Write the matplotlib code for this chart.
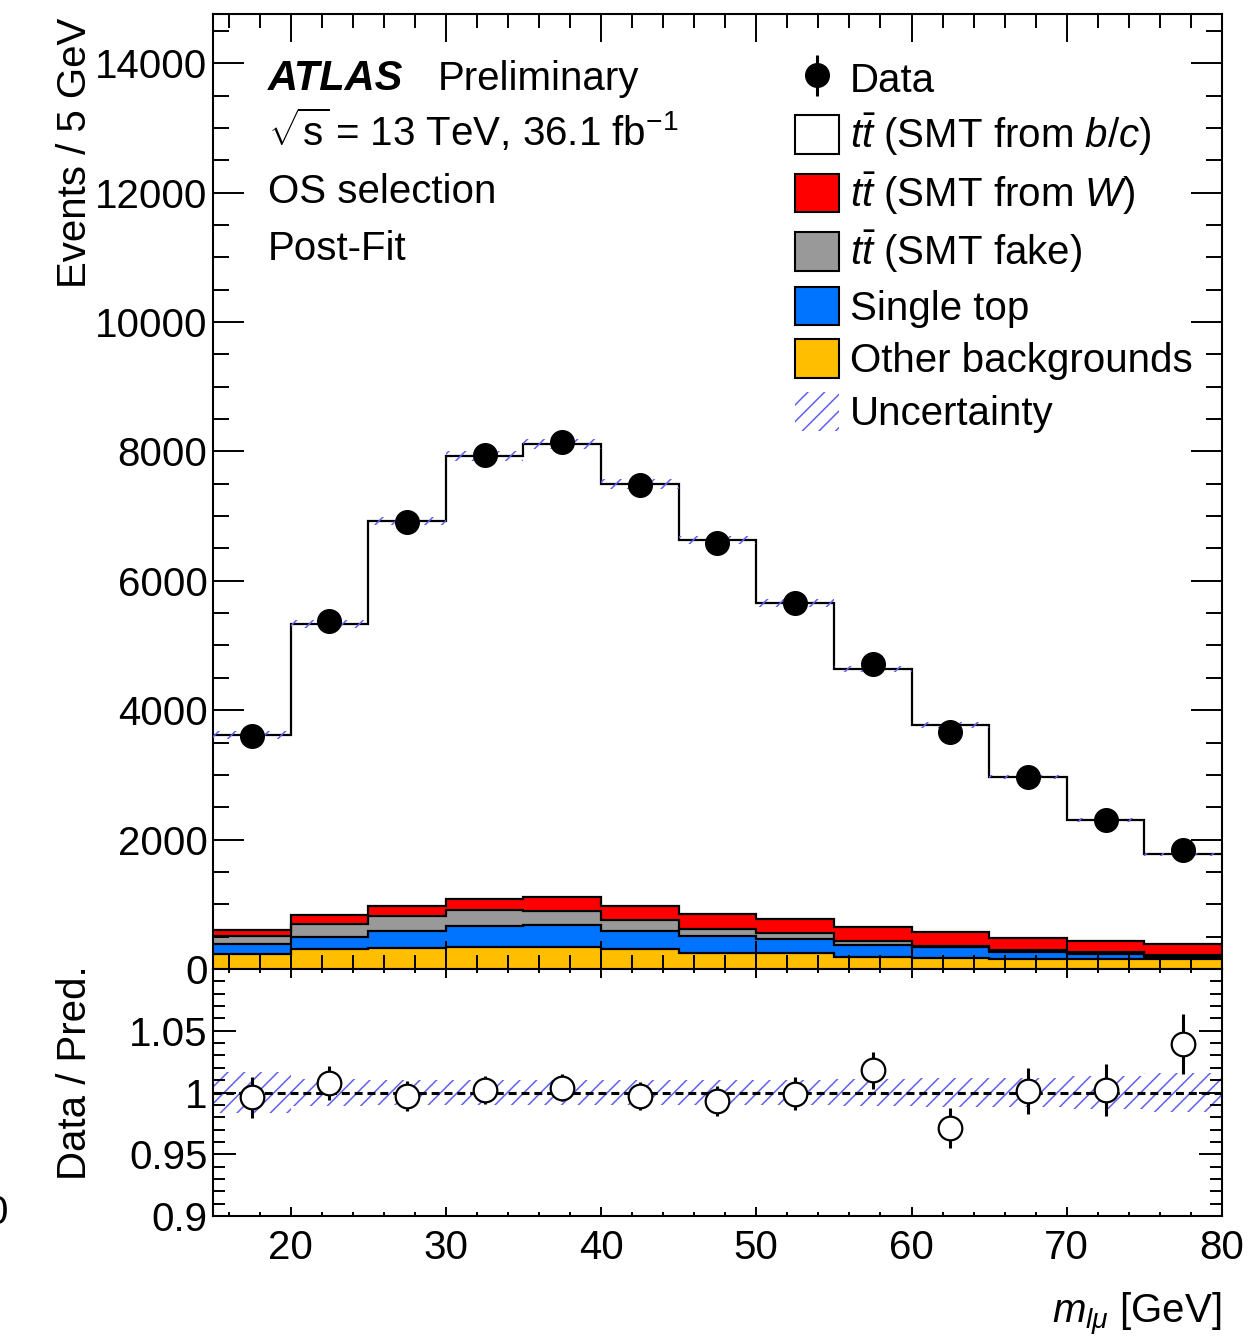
import matplotlib
matplotlib.use('Agg')
import matplotlib.pyplot as plt
import numpy as np
from matplotlib.patches import Patch
from matplotlib.ticker import MultipleLocator, FixedLocator, FuncFormatter

plt.rcParams['font.family'] = ['Liberation Sans', 'DejaVu Sans']
plt.rcParams['mathtext.fontset'] = 'custom'
plt.rcParams['mathtext.rm'] = 'Liberation Sans'
plt.rcParams['mathtext.it'] = 'Liberation Sans:italic'
plt.rcParams['mathtext.bf'] = 'Liberation Sans:bold'
plt.rcParams['hatch.linewidth'] = 1.1

# m_lmu bins [GeV]
edges = np.arange(15, 81, 5)
data = np.array([3604, 5372, 6903, 7945, 8146, 7474, 6585, 5651, 4720, 3662, 2971, 2310, 1840])
# stacked predictions, bottom to top
other_bkg = np.array([227, 304, 320, 335, 345, 304, 242, 242, 191, 165, 150, 150, 150])
single_top = np.array([154, 191, 268, 335, 341, 289, 273, 222, 185, 170, 108, 77, 41])
tt_fake = np.array([134, 206, 226, 242, 211, 160, 104, 98, 52, 21, 36, 41, 25])
tt_w = np.array([93, 129, 155, 176, 222, 216, 237, 216, 227, 211, 180, 160, 171])
total = np.array([3618, 5332, 6924, 7929, 8114, 7496, 6631, 5657, 4637, 3771, 2967, 2305, 1770])
tt_bc = total - other_bkg - single_top - tt_fake - tt_w
rel_unc = np.array([0.017, 0.011, 0.010, 0.010, 0.010, 0.010, 0.010, 0.010, 0.011, 0.012, 0.012, 0.0135, 0.016])

centers = 0.5 * (edges[:-1] + edges[1:])
ratio = data / total
ratio_err = np.sqrt(data) / total

hatch_col = '#6060f0'
fs = 29

fig = plt.figure(figsize=(12.51, 13.36), dpi=100)
ax = fig.add_axes([0.17026, 0.27470, 0.80655, 0.71482])
ax2 = fig.add_axes([0.17026, 0.08982, 0.80655, 0.18488])

components = [
    (other_bkg, '#ffbf00', 'Other backgrounds'),
    (single_top, '#0073ff', 'Single top'),
    (tt_fake, '#999999', r'$t\bar{t}$ (SMT fake)'),
    (tt_w, '#ff0000', r'$t\bar{t}$ (SMT from $W$)'),
    (tt_bc, 'white', r'$t\bar{t}$ (SMT from $b/c$)'),
]
bottom = np.zeros(len(total))
patches = {}
for vals, col, lab in components:
    top = bottom + vals
    ax.stairs(top, edges, baseline=bottom, fill=True, color=col, zorder=1)
    ax.stairs(top, edges, baseline=None, color='black', lw=1.6, zorder=2)
    patches[lab] = Patch(facecolor=col, edgecolor='black', lw=1.5)
    bottom = top

ax.stairs(total * (1 + rel_unc), edges, baseline=total * (1 - rel_unc), fill=True,
          hatch='//', facecolor='none', edgecolor=hatch_col, lw=0, zorder=3)
dat = ax.errorbar(centers, data, yerr=np.sqrt(data), fmt='o', color='black', ms=17,
                  elinewidth=2.2, capsize=0, zorder=5)

ax.set_xlim(15, 80)
ax.set_ylim(0, 14760)
ax.yaxis.set_major_locator(MultipleLocator(2000))
ax.yaxis.set_minor_locator(MultipleLocator(500))
ax.xaxis.set_major_locator(MultipleLocator(10))
ax.xaxis.set_minor_locator(MultipleLocator(2))
ax.tick_params(which='both', direction='in', top=True, right=True, width=1.4,
               labelsize=fs, labelbottom=False, pad=4)
ax.tick_params(axis='y', which='major', length=22)
ax.tick_params(axis='y', which='minor', length=11.5)
ax.tick_params(axis='x', which='major', length=20)
ax.tick_params(axis='x', which='minor', length=10)

# ratio panel
ax2.stairs(1 + rel_unc, edges, baseline=1 - rel_unc, fill=True, hatch='//',
           facecolor='none', edgecolor=hatch_col, lw=0, zorder=1)
ax2.axhline(1, color='black', lw=2.2, dashes=(2.6, 1.6), zorder=2)
ax2.errorbar(centers, ratio, yerr=ratio_err, fmt='o', mfc='white', mec='black', mew=1.6,
             ms=17, ecolor='black', elinewidth=2.2, capsize=0, zorder=4)
ax2.set_xlim(15, 80)
ax2.set_ylim(0.9, 1.1)
ax2.yaxis.set_major_locator(FixedLocator([0.9, 0.95, 1.0, 1.05]))
ax2.yaxis.set_minor_locator(MultipleLocator(0.01))
ax2.yaxis.set_major_formatter(FuncFormatter(lambda v, p: '%g' % round(v, 3)))
ax2.xaxis.set_major_locator(MultipleLocator(10))
ax2.xaxis.set_minor_locator(MultipleLocator(2))
ax2.tick_params(which='both', direction='in', top=True, right=True, width=1.4,
                labelsize=fs, pad=4)
ax2.tick_params(axis='x', which='major', pad=9)
ax2.tick_params(axis='y', which='major', length=16.5)
ax2.tick_params(axis='y', which='minor', length=8.6)
ax2.tick_params(axis='x', which='major', length=6.5)
ax2.tick_params(axis='x', which='minor', length=3.2)

for a in (ax, ax2):
    for s in a.spines.values():
        s.set_linewidth(1.5)

# legend
unc_patch = Patch(facecolor='none', edgecolor=hatch_col, hatch='//', lw=0)
labels = ['Data'] + [c[2] for c in components[::-1]] + ['Uncertainty']
handles = [dat] + [patches[c[2]] for c in components[::-1]] + [unc_patch]
ax.legend(handles, labels, loc='upper left', bbox_to_anchor=(0.577, 0.953), frameon=False,
          fontsize=fs, handlelength=1.1, handleheight=1.1, handletextpad=0.25,
          labelspacing=0.29, borderpad=0, borderaxespad=0)

# labels
ax.text(0.0545, 0.9199, 'ATLAS', transform=ax.transAxes, fontsize=30,
        fontweight='bold', fontstyle='italic', va='baseline')
ax.text(0.223, 0.9199, 'Preliminary', transform=ax.transAxes, fontsize=fs, va='baseline')
ax.text(0.0545, 0.8618, r'$\sqrt{\mathrm{s}}$' + '\u2009= 13 TeV, 36.1 fb$^{-1}$',
        transform=ax.transAxes, fontsize=fs, va='baseline')
ax.text(0.0545, 0.8021, 'OS selection', transform=ax.transAxes, fontsize=fs, va='baseline')
ax.text(0.0545, 0.7424, 'Post-Fit', transform=ax.transAxes, fontsize=fs, va='baseline')

fig.text(0.06, 0.9865, 'Events / 5 GeV', rotation=90, fontsize=fs, ha='center', va='top')
fig.text(0.06, 0.2777, 'Data / Pred.', rotation=90, fontsize=fs, ha='center', va='top')
fig.text(0.9768, 0.0097, r'$m_{l\mu}$ [GeV]', fontsize=fs, ha='right', va='baseline')
fig.text(8 / 1251, 0.0921, '0', fontsize=fs, ha='right', va='center')

fig.savefig('out.png', dpi=100)
